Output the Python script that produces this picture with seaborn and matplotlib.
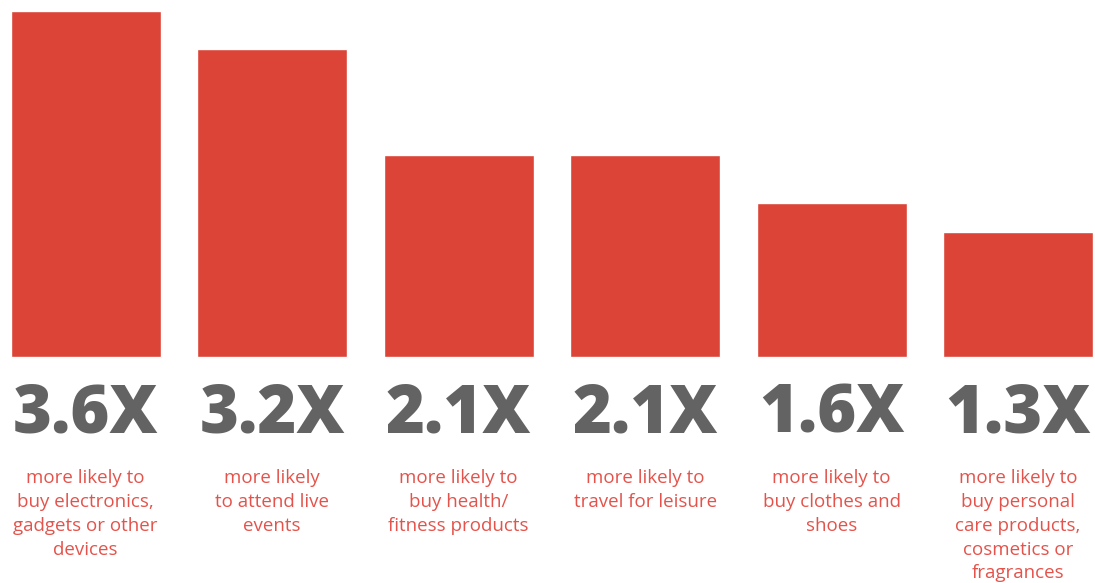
import numpy as np
import pandas as pd
import matplotlib.pyplot as plt
import seaborn as sns

# values
values = [3.6, 3.2, 2.1, 2.1, 1.6, 1.3]
value_labels = ["3.6X", "3.2X", "2.1X", "2.1X", "1.6X", "1.3X"]
captions = [
    "more likely to\nbuy electronics,\ngadgets or other\ndevices",
    "more likely\nto attend live\nevents",
    "more likely to\nbuy health/\nfitness products",
    "more likely to\ntravel for leisure",
    "more likely to\nbuy clothes and\nshoes",
    "more likely to\nbuy personal\ncare products,\ncosmetics or\nfragrances",
]

sns.set_style("white")
plt.rcParams['font.family'] = ['Open Sans', 'DejaVu Sans']

df = pd.DataFrame({"idx": np.arange(len(values)), "value": values})

fig = plt.figure(figsize=(10.95, 5.83), dpi=100)
ax = fig.add_axes([0, 0, 1, 1])
sns.barplot(data=df, x="idx", y="value", color="#DB4437", saturation=1,
            width=0.804, ax=ax)

for i, (lab, cap) in enumerate(zip(value_labels, captions)):
    ax.text(i, -0.791, lab, ha="center", va="baseline", fontsize=48,
            fontweight="heavy", color="#636363")
    ax.text(i, -1.165, cap, ha="center", va="top", fontsize=13.5,
            color="#E4534B", linespacing=1.42)

ax.set_xlim(-0.459, 5.412)
ax.set_ylim(-2.352, 3.715)
ax.axis("off")

plt.savefig("out.png", dpi=100)
